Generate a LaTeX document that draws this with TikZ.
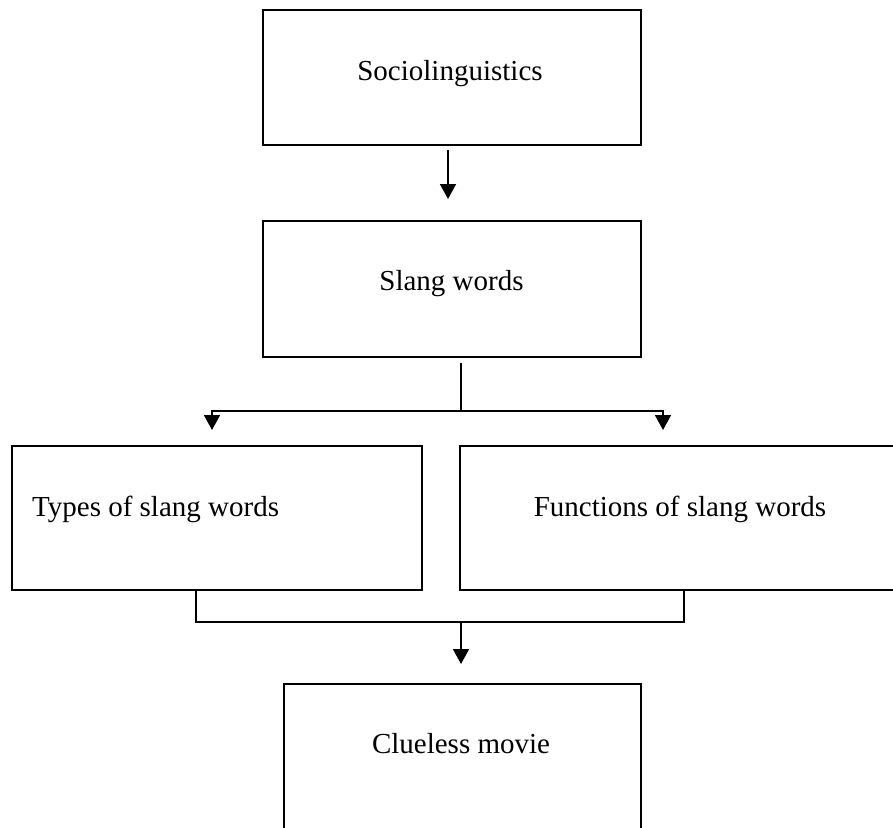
\documentclass[tikz,border=0pt]{standalone}
\usepackage{fontspec}
\setmainfont{Liberation Serif}
\usetikzlibrary{arrows.meta}
\begin{document}
\begin{tikzpicture}[x=1pt,y=-1pt,
  box/.style={draw,line width=1.8pt,inner sep=0pt,outer sep=0pt},
  lbl/.style={inner sep=0pt,font=\fontsize{29}{35}\selectfont},
  conn/.style={line width=1.8pt},
  arr/.style={conn,-{Triangle[width=16pt,length=15pt]}}]
\useasboundingbox (0,0) rectangle (893,827);
\clip (0,0) rectangle (893,827);
\fill[white] (0,0) rectangle (893,827);
% boxes
\node[box,minimum width=378pt,minimum height=135pt] (b1) at (452,77.5) {};
\node[box,minimum width=378pt,minimum height=136pt] (b2) at (452,289) {};
\node[box,minimum width=410pt,minimum height=144pt] (b3) at (217,518) {};
\node[box,minimum width=442pt,minimum height=144pt] (b4) at (681,518) {};
\node[box,minimum width=357pt,minimum height=216pt] (b5) at (462.5,792) {};
% labels
\node[lbl,anchor=base] (t1) at (450,80) {Sociolinguistics};
\node[lbl,anchor=base] (t2) at (451.5,290) {Slang words};
\node[lbl,anchor=base west] (t3) at (32,516) {Types of slang words};
\node[lbl,anchor=base] (t4) at (680,516) {Functions of slang words};
\node[lbl,anchor=base] (t5) at (461,753) {Clueless movie};
% connector points
\coordinate (a1s) at (448,150);
\coordinate (a1e) at (448,199);
\coordinate (s2) at (461,363);
\coordinate (split) at (461,411);
\coordinate (tl) at (212,430);
\coordinate (tr) at (663,430);
\coordinate (bl) at (196,622);
\coordinate (br) at (684,622);
\coordinate (m) at (461,622);
\coordinate (t5e) at (461,664);
% connectors
\draw[arr] (a1s) -- (a1e);
\draw[conn] (s2) -- (split);
\draw[arr] (split) -| (tl);
\draw[arr] (split) -| (tr);
\draw[conn] (b3.south -| bl) -- (bl) -- (br) -- (b4.south -| br);
\draw[arr] (m) -- (t5e);
\end{tikzpicture}
\end{document}
